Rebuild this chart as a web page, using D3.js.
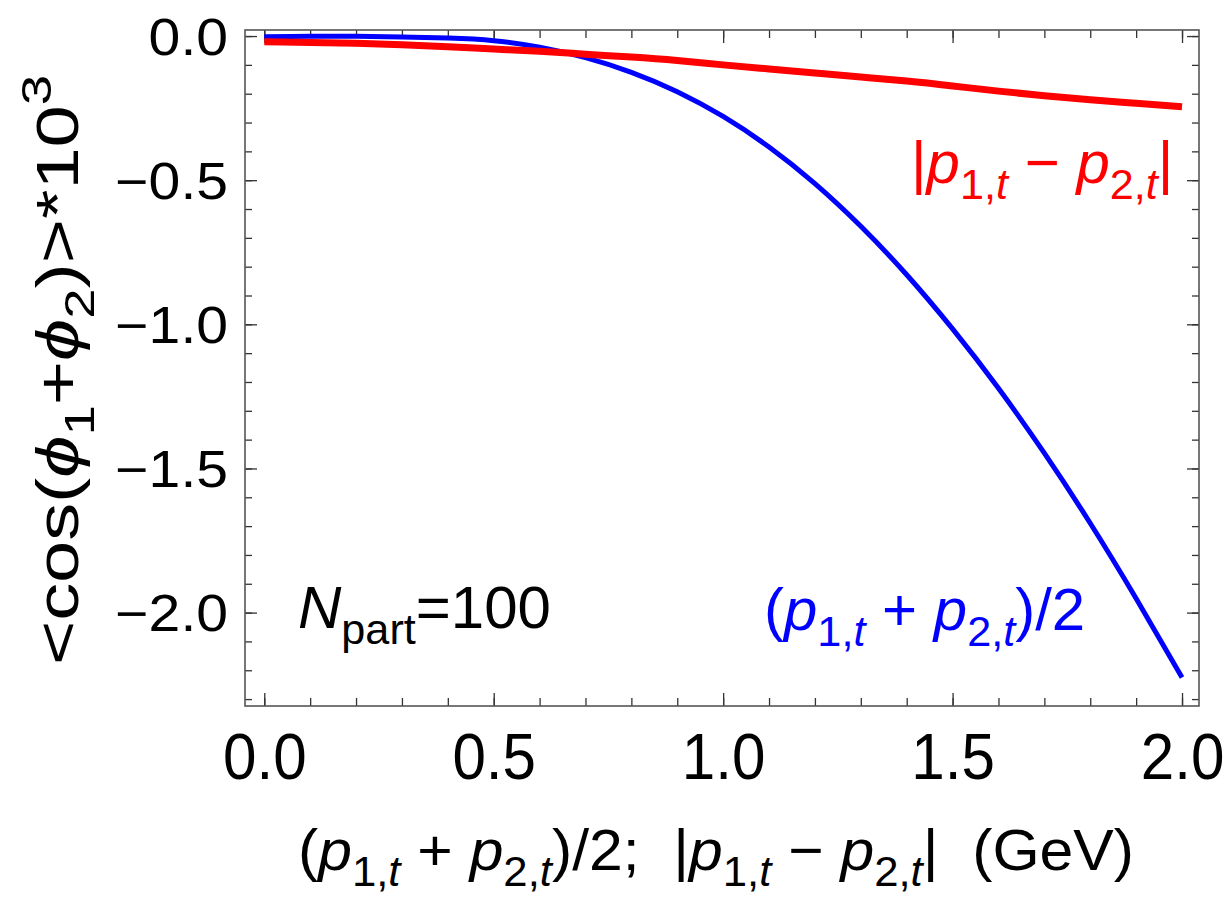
<!DOCTYPE html>
<html>
<head>
<meta charset="utf-8">
<script src="https://cdn.jsdelivr.net/npm/d3@7"></script>
<style>
  html, body { margin: 0; padding: 0; background: #fff; }
  svg { display: block; font-family: "Liberation Sans", Arial, Helvetica, sans-serif; }
</style>
</head>
<body>
<svg id="chart" width="1227" height="898"></svg>
<script>
// Momentum values (GeV) at which both curves are sampled
const pt = [0.0, 0.1, 0.2, 0.3, 0.4, 0.5, 0.6, 0.7, 0.8, 0.9, 1.0,
            1.1, 1.2, 1.3, 1.4, 1.5, 1.6, 1.7, 1.8, 1.9, 2.0];

// <cos(phi1+phi2)> * 10^3 versus the mean transverse momentum (p1t+p2t)/2
const meanPtCorr = [-0.002, -0.001, -0.001, -0.003, -0.007, -0.016, -0.039, -0.075, -0.126, -0.193, -0.279,
                    -0.385, -0.512, -0.660, -0.828, -1.016, -1.222, -1.447, -1.690, -1.951, -2.225];

// <cos(phi1+phi2)> * 10^3 versus the momentum difference |p1t-p2t|
const diffPtCorr = [-0.020, -0.022, -0.025, -0.030, -0.037, -0.045, -0.053, -0.063, -0.073, -0.085, -0.100,
                    -0.114, -0.128, -0.142, -0.156, -0.173, -0.191, -0.207, -0.221, -0.233, -0.245];

const xTickValues = [0.0, 0.5, 1.0, 1.5, 2.0];
const xTickLabels = ["0.0", "0.5", "1.0", "1.5", "2.0"];
const yTickValues = [0.0, -0.5, -1.0, -1.5, -2.0];
const yTickLabels = ["0.0", "\u22120.5", "\u22121.0", "\u22121.5", "\u22122.0"];

const svg = d3.select("#chart");
const frame = { left: 245, right: 1199, top: 30, bottom: 706 };

const x = d3.scaleLinear().domain([-0.042, 2.037]).range([frame.left, frame.right]);
const y = d3.scaleLinear().domain([0.021, -2.324]).range([frame.top, frame.bottom]);

const xMinor = d3.range(0, 21).map(i => i / 10);
const yMinor = d3.range(0, 24).map(i => -i / 10);

// ---- tick marks on all four sides, pointing inward ----
function tickLayer(axisGen, tx, ty) {
  const g = svg.append("g").attr("transform", `translate(${tx},${ty})`).call(axisGen);
  g.select(".domain").remove();
  g.selectAll(".tick line").attr("stroke", "#333").attr("stroke-width", 1.3);
  return g;
}
// minor
tickLayer(d3.axisBottom(x).tickValues(xMinor).tickSize(-8).tickFormat(""), 0, frame.bottom);
tickLayer(d3.axisTop(x).tickValues(xMinor).tickSize(-8).tickFormat(""), 0, frame.top);
tickLayer(d3.axisLeft(y).tickValues(yMinor).tickSize(-7).tickFormat(""), frame.left, 0);
tickLayer(d3.axisRight(y).tickValues(yMinor).tickSize(-7).tickFormat(""), frame.right, 0);
// major
const xAxisG = tickLayer(d3.axisBottom(x).tickValues(xTickValues).tickSize(-13)
  .tickFormat((d, i) => xTickLabels[i]), 0, frame.bottom);
tickLayer(d3.axisTop(x).tickValues(xTickValues).tickSize(-13).tickFormat(""), 0, frame.top);
const yAxisG = tickLayer(d3.axisLeft(y).tickValues(yTickValues).tickSize(-12)
  .tickFormat((d, i) => yTickLabels[i]), frame.left, 0);
tickLayer(d3.axisRight(y).tickValues(yTickValues).tickSize(-12).tickFormat(""), frame.right, 0);

const xLabelScale = 0.94;
xAxisG.selectAll(".tick text")
  .attr("font-family", null)
  .attr("font-size", null)
  .style("font-size", "64px")
  .attr("fill", "#000")
  .attr("y", 73)
  .attr("dy", 0)
  .attr("x", 0)
  .attr("transform", `scale(${xLabelScale},1)`);

const yLabelScale = 1.12;
yAxisG.selectAll(".tick text")
  .attr("font-family", null)
  .attr("font-size", null)
  .style("font-size", "51px")
  .attr("fill", "#000")
  .attr("x", -17 / yLabelScale)
  .attr("dy", "0.36em")
  .attr("transform", `scale(${yLabelScale},1)`);

// ---- frame ----
svg.append("rect")
  .attr("x", frame.left).attr("y", frame.top)
  .attr("width", frame.right - frame.left).attr("height", frame.bottom - frame.top)
  .attr("fill", "none").attr("stroke", "#555").attr("stroke-width", 1.6);

// ---- curves ----
const line = d3.line().x(d => x(d[0])).y(d => y(d[1])).curve(d3.curveNatural);

svg.append("path")
  .datum(pt.map((p, i) => [p, meanPtCorr[i]]))
  .attr("d", line)
  .attr("fill", "none").attr("stroke", "#0000ff").attr("stroke-width", 5);

svg.append("path")
  .datum(pt.map((p, i) => [p, diffPtCorr[i]]))
  .attr("d", line)
  .attr("fill", "none").attr("stroke", "#ff0000").attr("stroke-width", 7);

// ---- rich text helper: italic / subscript / superscript runs ----
function richText(parent, parts, opt) {
  const size = opt.size;
  const t = parent.append("text")
    .attr("x", opt.x).attr("y", opt.y)
    .attr("fill", opt.color || "#000")
    .attr("text-anchor", opt.anchor || "start")
    .style("font-size", size + "px")
    .style("white-space", "pre");
  if (opt.transform) t.attr("transform", opt.transform);
  let shift = 0;
  parts.forEach(p => {
    const part = typeof p === "string" ? { t: p } : p;
    const target = part.sub ? 0.27 * size : part.sup ? -0.45 * size : 0;
    const ts = t.append("tspan").text(part.t).attr("dy", target - shift);
    shift = target;
    if (part.sub || part.sup) ts.style("font-size", (0.72 * size) + "px");
    if (part.i) ts.style("font-style", "italic");
  });
  if (opt.length) t.attr("textLength", opt.length).attr("lengthAdjust", "spacingAndGlyphs");
  return t;
}

const sumParts = ["(", { t: "p", i: true }, { t: "1,", sub: true }, { t: "t", sub: true, i: true },
  " + ", { t: "p", i: true }, { t: "2,", sub: true }, { t: "t", sub: true, i: true }, ")/2"];
const diffParts = ["|", { t: "p", i: true }, { t: "1,", sub: true }, { t: "t", sub: true, i: true },
  " \u2212 ", { t: "p", i: true }, { t: "2,", sub: true }, { t: "t", sub: true, i: true }, "|"];

// curve labels
richText(svg, diffParts, { x: 911, y: 183, size: 60, color: "#ff0000" });
richText(svg, sumParts, { x: 764, y: 630, size: 60, color: "#0000ff" });

// centrality annotation
richText(svg, [{ t: "N", i: true }, { t: "part", sub: true }, "=100"], { x: 298, y: 628, size: 60 });

// x-axis title
richText(svg, [...sumParts, ";  ", ...diffParts, "  (GeV)"],
  { x: 716, y: 870, size: 58, anchor: "middle", length: 836 });

// y-axis title
richText(svg, ["<cos(", { t: "\u03d5", i: true }, { t: "1", sub: true }, "+", { t: "\u03d5", i: true },
  { t: "2", sub: true }, ")>*10", { t: "3", sup: true }],
  { x: 0, y: 0, size: 60, anchor: "middle", transform: "translate(78,370) rotate(-90)", length: 590 });
</script>
</body>
</html>
